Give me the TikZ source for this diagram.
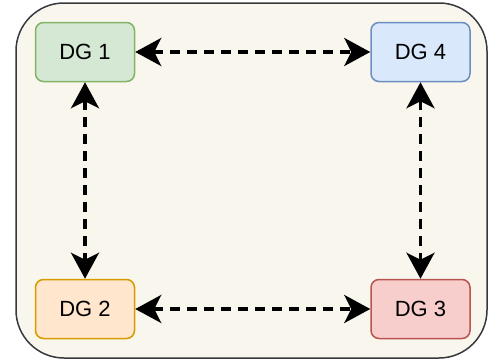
\documentclass[tikz,border=0pt]{standalone}
\usepackage{fontspec}
\setmainfont{Liberation Sans}
\usetikzlibrary{arrows.meta}

\definecolor{panelfill}{HTML}{F9F7ED}
\definecolor{panelline}{HTML}{36393D}
\definecolor{greenfill}{HTML}{D5E8D4}
\definecolor{greenline}{HTML}{82B366}
\definecolor{bluefill}{HTML}{DAE8FC}
\definecolor{blueline}{HTML}{6C8EBF}
\definecolor{orangefill}{HTML}{FFE6CC}
\definecolor{orangeline}{HTML}{D79B00}
\definecolor{redfill}{HTML}{F8CECC}
\definecolor{redline}{HTML}{B85450}

\tikzset{
	dgbox/.style={draw, line width=1.5pt, rounded corners=8pt, minimum width=99pt, minimum height=59pt, inner sep=0pt, font=\fontsize{22}{26}\selectfont},
	link/.style={line width=3.5pt, dash pattern=on 10pt off 7pt, {Stealth[length=26pt, width=28pt, inset=7pt]}-{Stealth[length=26pt, width=28pt, inset=7pt]}}
}

\begin{document}
\begin{tikzpicture}[x=1pt, y=-1pt]
	\useasboundingbox (0, 0) rectangle (499, 364);
	\draw [panelline, fill=panelfill, line width=1.5pt, rounded corners=48pt] (16, 3) rectangle (487, 358);
	\node [dgbox, draw=greenline, fill=greenfill] (dg1) at (85, 52) {DG 1};
	\node [dgbox, draw=orangeline, fill=orangefill] (dg2) at (85, 309) {DG 2};
	\node [dgbox, draw=redline, fill=redfill] (dg3) at (420.5, 309) {DG 3};
	\node [dgbox, draw=blueline, fill=bluefill] (dg4) at (420.5, 52) {DG 4};
	\draw [link] (dg1) -- (dg4);
	\draw [link] (dg2) -- (dg3);
	\draw [link] (dg1) -- (dg2);
	\draw [link] (dg4) -- (dg3);
\end{tikzpicture}
\end{document}
